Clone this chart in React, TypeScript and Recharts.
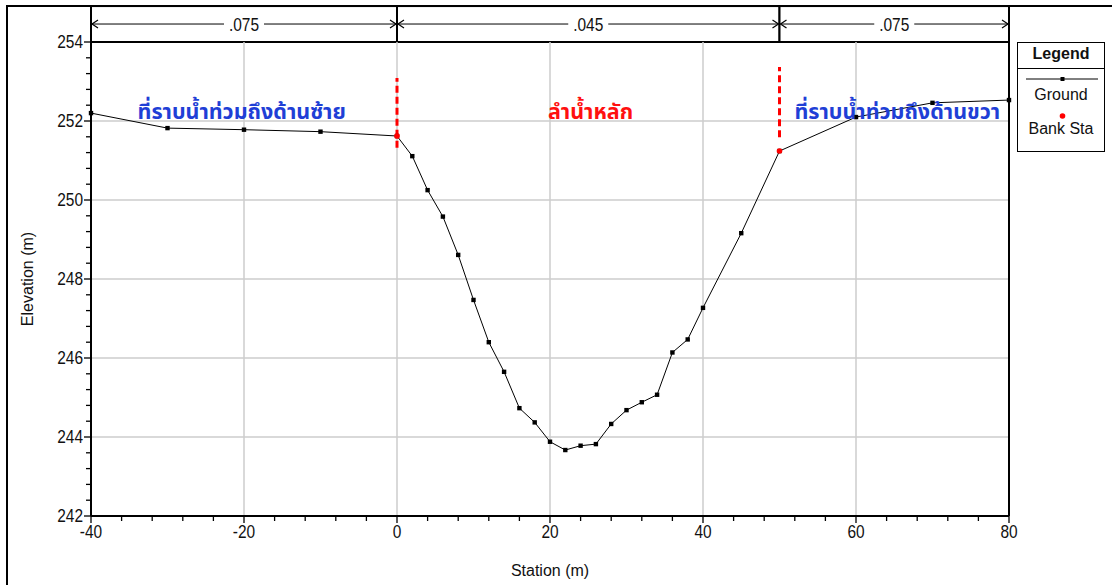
import {
  LineChart,
  Line,
  XAxis,
  YAxis,
  ReferenceLine,
  ReferenceArea,
  ReferenceDot,
  Legend,
} from "recharts";

const groundStation = [
  -40, -30, -20, -10, 0, 2, 4, 6, 8, 10, 12, 14, 16, 18, 20, 22, 24, 26, 28,
  30, 32, 34, 36, 38, 40, 45, 50, 60, 70, 80,
];
const groundElevation = [
  252.2, 251.82, 251.78, 251.73, 251.62, 251.11, 250.25, 249.58, 248.61,
  247.47, 246.4, 245.65, 244.73, 244.37, 243.88, 243.67, 243.78, 243.82,
  244.33, 244.68, 244.88, 245.07, 246.14, 246.47, 247.27, 249.16, 251.24,
  252.1, 252.46, 252.53,
];

const bankStation = [0, 50];
const bankElevation = [251.62, 251.24];
const bankMarkTop = [253.09, 253.37];
const bankMarkBottom = [251.32, 251.59];

const zoneStart = [-40, 0, 50];
const zoneEnd = [0, 50, 80];
const zoneN = [".075", ".045", ".075"];
const headerTop = 254.91;

const regionText = [
  "ที่ราบน้ำท่วมถึงด้านซ้าย",
  "ลำน้ำหลัก",
  "ที่ราบน้ำท่วมถึงด้านขวา",
];
const regionStation = [-20.3, 25.3, 65.4];
const regionColor = ["#1f3fd6", "#ff1010", "#1f3fd6"];

const xTicks = [
  -40, -36, -32, -28, -24, -20, -16, -12, -8, -4, 0, 4, 8, 12, 16, 20, 24, 28,
  32, 36, 40, 44, 48, 52, 56, 60, 64, 68, 72, 76, 80,
];
const xMajor = [-40, -20, 0, 20, 40, 60, 80];
const yTicks = [
  242, 242.4, 242.8, 243.2, 243.6, 244, 244.4, 244.8, 245.2, 245.6, 246, 246.4,
  246.8, 247.2, 247.6, 248, 248.4, 248.8, 249.2, 249.6, 250, 250.4, 250.8,
  251.2, 251.6, 252, 252.4, 252.8, 253.2, 253.6, 254,
];
const yMajor = [242, 244, 246, 248, 250, 252, 254];

const groundData = groundStation.map((x, i) => ({ x, y: groundElevation[i] }));
const bankData = bankStation.map((x, i) => ({ x, y: bankElevation[i] }));

const FONT = "'Liberation Sans', Arial, sans-serif";
const THAI = "'Noto Sans Thai', 'Noto Sans', 'DejaVu Sans', sans-serif";

// narrow-looking text: the original uses a condensed sans
function NarrowText({ x, y, anchor, children }: any) {
  return (
    <text
      transform={`translate(${x},${y}) scale(0.86,1)`}
      dy="0.36em"
      textAnchor={anchor}
      fontFamily={FONT}
      fontSize={18}
      fill="#111"
    >
      {children}
    </text>
  );
}

function XTick({ x, y, payload }: any) {
  const major = xMajor.includes(payload.value);
  return (
    <g>
      <line x1={x} x2={x} y1={y} y2={y + (major ? 7 : 5)} stroke="#000" strokeWidth={1.3} />
      {major && (
        <NarrowText x={x} y={y + 16} anchor="middle">
          {payload.value}
        </NarrowText>
      )}
    </g>
  );
}

function YTick({ x, y, payload }: any) {
  const major = yMajor.some((v) => Math.abs(v - payload.value) < 1e-6);
  return (
    <g>
      <line x1={x} x2={x - (major ? 7 : 5)} y1={y} y2={y} stroke="#000" strokeWidth={1.3} />
      {major && (
        <NarrowText x={x - 8} y={y} anchor="end">
          {Math.round(payload.value)}
        </NarrowText>
      )}
    </g>
  );
}

function ZoneHeader({ x, y, width, height, n }: any) {
  const mid = y + height / 2;
  const l = x + 1;
  const r = x + width - 1;
  const cx = x + width / 2;
  return (
    <g>
      <rect x={x} y={y} width={width} height={height} fill="#fff" stroke="#000" strokeWidth={2} />
      <line x1={l} x2={r} y1={mid} y2={mid} stroke="#000" strokeWidth={1} />
      <polyline points={`${l + 6},${mid - 4} ${l},${mid} ${l + 6},${mid + 4}`} fill="none" stroke="#000" strokeWidth={1.2} />
      <polyline points={`${r - 6},${mid - 4} ${r},${mid} ${r - 6},${mid + 4}`} fill="none" stroke="#000" strokeWidth={1.2} />
      <rect x={cx - 20} y={mid - 7} width={40} height={14} fill="#fff" />
      <NarrowText x={cx} y={mid} anchor="middle">
        {n}
      </NarrowText>
    </g>
  );
}

function GroundDot({ cx, cy, index }: any) {
  return <rect key={`g${index}`} x={cx - 2.2} y={cy - 2.2} width={4.4} height={4.4} fill="#000" />;
}

function BankDot({ cx, cy, index }: any) {
  return <circle key={`b${index}`} cx={cx} cy={cy} r={2.8} fill="#ff0000" />;
}

function LegendBox() {
  return (
    <div
      style={{
        position: "relative",
        width: 88,
        height: 110,
        border: "1.5px solid #000",
        boxSizing: "border-box",
        background: "#fff",
        fontFamily: FONT,
        color: "#111",
      }}
    >
      <div style={{ height: 25, borderBottom: "1.5px solid #000", textAlign: "center", fontWeight: "bold", fontSize: 16, lineHeight: "21px" }}>
        Legend
      </div>
      <svg width={86} height={50} style={{ position: "absolute", left: 0, top: 26 }}>
        <line x1={8} x2={80} y1={10} y2={10} stroke="#000" strokeWidth={1} />
        <rect x={42.5} y={8} width={4} height={4} fill="#000" />
        <circle cx={44.5} cy={47} r={2.8} fill="#ff0000" />
      </svg>
      <div style={{ position: "absolute", top: 43, width: "100%", textAlign: "center", fontSize: 16 }}>Ground</div>
      <div style={{ position: "absolute", top: 77, width: "100%", textAlign: "center", fontSize: 16 }}>Bank Sta</div>
    </div>
  );
}

export default function App() {
  return (
    <div style={{ position: "absolute", left: 0, top: 0, width: 1112, height: 585, background: "#fff", overflow: "hidden" }}>
      <div style={{ position: "absolute", left: 6, top: 5, width: 1112, height: 600, borderLeft: "2px solid #000", borderTop: "2px solid #000" }} />
      <LineChart
        width={1112}
        height={585}
        margin={{ top: 42, right: 103, bottom: 0, left: 0 }}
        style={{ position: "absolute", left: 0, top: 0 }}
      >
        <XAxis
          type="number"
          dataKey="x"
          domain={[-40, 80]}
          ticks={xTicks}
          interval={0}
          height={69}
          tickSize={0}
          tickMargin={0}
          tickLine={false}
          tick={<XTick />}
          axisLine={{ stroke: "#000", strokeWidth: 2 }}
          label={{ value: "Station (m)", position: "insideBottom", offset: 9, fontFamily: FONT, fontSize: 16, fill: "#111" }}
        />
        <YAxis
          type="number"
          dataKey="y"
          domain={[242, 254]}
          ticks={yTicks}
          interval={0}
          width={91}
          tickSize={0}
          tickMargin={0}
          tickLine={false}
          tick={<YTick />}
          axisLine={{ stroke: "#000", strokeWidth: 2 }}
          label={{
            value: "Elevation (m)",
            angle: -90,
            position: "insideLeft",
            offset: 27,
            fontFamily: FONT,
            fontSize: 16,
            fill: "#111",
            style: { textAnchor: "middle" },
          }}
        />
        {xMajor.slice(1, -1).map((v) => (
          <ReferenceLine key={`gx${v}`} x={v} stroke="#cdcdcd" strokeWidth={1.5} />
        ))}
        {yMajor.slice(1, -1).map((v) => (
          <ReferenceLine key={`gy${v}`} y={v} stroke="#cdcdcd" strokeWidth={1.5} />
        ))}
        <ReferenceLine x={80} stroke="#000" strokeWidth={2} />
        {zoneStart.map((s, i) => (
          <ReferenceArea
            key={`z${i}`}
            x1={s}
            x2={zoneEnd[i]}
            y1={254}
            y2={headerTop}
            ifOverflow="visible"
            shape={(p: any) => <ZoneHeader {...p} n={zoneN[i]} />}
          />
        ))}
        {bankStation.map((s, i) => (
          <ReferenceLine
            key={`bk${i}`}
            segment={[
              { x: s, y: bankMarkBottom[i] },
              { x: s, y: bankMarkTop[i] },
            ]}
            stroke="#ff0000"
            strokeWidth={3}
            strokeDasharray="7 4"
          />
        ))}
        {regionText.map((t, i) => (
          <ReferenceDot
            key={`rt${i}`}
            x={regionStation[i]}
            y={252.25}
            r={0}
            fill="none"
            stroke="none"
            label={{ value: t, position: "center", fill: regionColor[i], fontSize: 21.5, fontWeight: "bold", fontFamily: THAI }}
          />
        ))}
        <Line
          data={groundData}
          dataKey="y"
          name="Ground"
          type="linear"
          stroke="#000"
          strokeWidth={1}
          dot={GroundDot}
          activeDot={false}
          isAnimationActive={false}
        />
        <Line
          data={bankData}
          dataKey="y"
          name="Bank Sta"
          type="linear"
          stroke="none"
          dot={BankDot}
          activeDot={false}
          isAnimationActive={false}
        />
        <Legend
          layout="horizontal"
          align="center"
          verticalAlign="middle"
          content={() => <LegendBox />}
          wrapperStyle={{ position: "absolute", left: 1017, top: 42, width: 88, height: 110 }}
        />
      </LineChart>
    </div>
  );
}
